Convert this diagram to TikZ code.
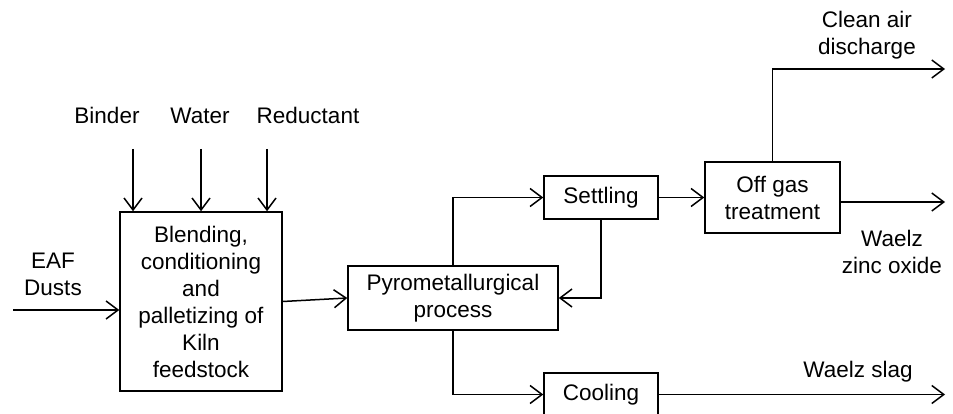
\documentclass[tikz,border=0pt]{standalone}
\usepackage{fontspec}
\setmainfont{Liberation Sans}
\usetikzlibrary{arrows.meta}
\tikzset{
  blk/.style={draw, line width=1.5pt, inner sep=0pt, align=center},
  lbl/.style={align=center, inner sep=0pt},
}
\begin{document}
\begin{tikzpicture}[x=1pt, y=-1pt, line width=1.5pt,
    >={Straight Barb[length=12pt, width=18pt, line width=1.5pt]},
    font=\fontsize{22.5}{27}\selectfont]
      \useasboundingbox (0,0) rectangle (953,414);
      \draw
        (201,301.5) node[blk, minimum width=162, minimum height=179] (blend){Blending,\\conditioning\\and\\palletizing of\\Kiln\\feedstock}
        (453,298) node[blk, minimum width=210, minimum height=64] (pyro){Pyrometallurgical\\process}
        (601,197.5) node[blk, minimum width=114, minimum height=43] (settle){Settling}
        (772.5,197.5) node[blk, minimum width=135, minimum height=71] (offgas){Off gas\\treatment}
        (601,394.5) node[blk, minimum width=114, minimum height=43] (cool){Cooling}
        (107,124) node[lbl, anchor=base] (binder){Binder}
        (200,124) node[lbl, anchor=base] (water){Water}
        (308,124) node[lbl, anchor=base] (reduct){Reductant}
        (53,274) node[lbl] (eaf){EAF\\Dusts}
        (867,35.5) node[lbl] (clean){Clean air\\discharge}
        (892,251.5) node[lbl] (zinc){Waelz\\zinc oxide}
        (858,372) node[lbl] (slag){Waelz slag};
      \coordinate (b1) at (133,149);
      \coordinate (b2) at (201,149);
      \coordinate (b3) at (267,149);
      \coordinate (e0) at (13,310);
      \coordinate (o1) at (945,69);
      \coordinate (o2) at (945,202);
      \coordinate (o3) at (945,394.5);
      \begin{scope}[->]
        \draw (b1) to (b1 |- blend.north);
        \draw (b2) to (b2 |- blend.north);
        \draw (b3) to (b3 |- blend.north);
        \draw (e0) to (e0 -| blend.west);
        \draw (blend.east) to (pyro.west);
        \draw (pyro.north) |- (settle.west);
        \draw (settle.south) |- (pyro.east);
        \draw (settle.east) to (offgas.west);
        \draw (offgas.north) |- (o1);
        \draw (offgas.east |- o2) to (o2);
        \draw (pyro.south) |- (cool.west);
        \draw (cool.east) to (o3);
      \end{scope}
    \end{tikzpicture}
\end{document}
